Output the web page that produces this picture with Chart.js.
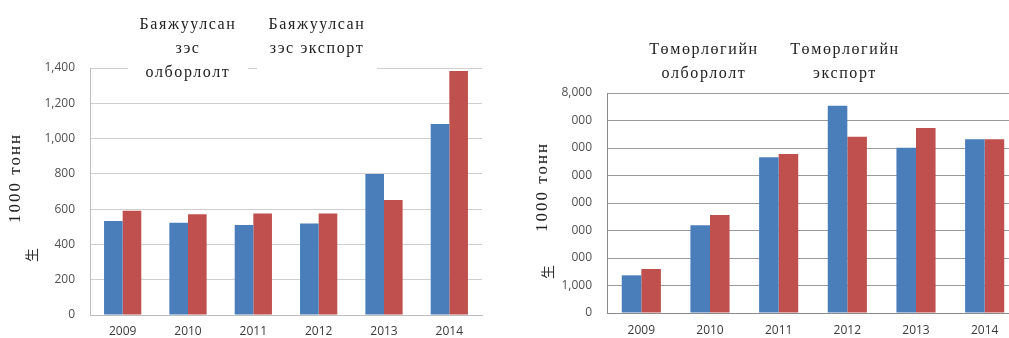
<!DOCTYPE html>
<html>
<head>
<meta charset="utf-8">
<script src="https://cdn.jsdelivr.net/npm/chart.js@4/dist/chart.umd.min.js"></script>
<style>
html,body{margin:0;padding:0;background:#fff;width:1009px;height:338px;overflow:hidden;position:relative}
#c1wrap{position:absolute;left:0;top:0;width:500px;height:338px}
#c2wrap{position:absolute;left:500px;top:0;width:540px;height:338px}
</style>
</head>
<body>
<div id="c1wrap"><canvas id="c1" width="500" height="338"></canvas></div>
<div id="c2wrap"><canvas id="c2" width="540" height="338"></canvas></div>
<script>
// ---- data ----
const years = ['2009','2010','2011','2012','2013','2014'];
const copperProduction = [533, 523, 510, 518, 799, 1083];
const copperExport = [591, 571, 576, 576, 652, 1383];
const copperTickLabels = ['0','200','400','600','800','1,000','1,200','1,400'];
const ironProduction = [1370, 3190, 5660, 7540, 6010, 6320];
const ironExport = [1600, 3560, 5780, 6410, 6730, 6320];
const ironTickLabels = ['0','1,000','000','000','000','000','000','000','8,000'];
const copperLegend1 = ['Баяжуулсан','зэс','олборлолт'];
const copperLegend2 = ['Баяжуулсан','зэс экспорт'];
const ironLegend1 = ['Төмөрлөгийн','олборлолт'];
const ironLegend2 = ['Төмөрлөгийн','экспорт'];
const yTitle = '1000 тонн';
const strayGlyph = '生';

const BLUE = '#4a7ebb', RED = '#c0504d';
const SERIF = '"Liberation Serif","DejaVu Serif",serif';

const annotPlugin = {
  id: 'annot',
  afterDraw(chart, args, opts) {
    const ctx = chart.ctx;
    ctx.save();
    (opts.boxes || []).forEach(b => {
      ctx.fillStyle = '#ffffff';
      ctx.fillRect(b.x, b.y, b.w, b.h);
    });
    ctx.fillStyle = '#222';
    ctx.font = '16px ' + SERIF;
    ctx.letterSpacing = '1.6px';
    ctx.textAlign = 'center';
    ctx.textBaseline = 'middle';
    (opts.labels || []).forEach(l => {
      l.lines.forEach((t, i) => ctx.fillText(t, l.x, l.y + i * 24));
    });
    const yt = opts.yTitle;
    if (yt) {
      ctx.save();
      ctx.translate(yt.x, yt.y);
      ctx.rotate(-Math.PI / 2);
      ctx.font = '17px ' + SERIF;
      ctx.letterSpacing = '2px';
      ctx.fillText(yt.text, 0, 0);
      ctx.restore();
    }
    const g = opts.glyph;
    if (g) {
      ctx.save();
      ctx.translate(g.x, g.y);
      ctx.rotate(-Math.PI / 2);
      ctx.letterSpacing = '0px';
      ctx.font = '14px "Noto Sans CJK SC"';
      ctx.fillStyle = '#333';
      ctx.fillText(g.text, 0, 0);
      ctx.restore();
    }
    ctx.restore();
  }
};

function makeChart(id, cfg) {
  return new Chart(document.getElementById(id), {
    type: 'bar',
    data: {
      labels: years,
      datasets: [
        {data: cfg.d1, backgroundColor: BLUE, borderWidth: 0, barPercentage: 1, categoryPercentage: 0.57},
        {data: cfg.d2, backgroundColor: RED, borderWidth: 0, barPercentage: 1, categoryPercentage: 0.57}
      ]
    },
    options: {
      responsive: false,
      animation: false,
      devicePixelRatio: 1,
      layout: {padding: cfg.padding},
      plugins: {legend: {display: false}, tooltip: {enabled: false}, annot: cfg.annot},
      scales: {
        x: {
          grid: {display: false, drawTicks: false},
          border: {display: true, color: cfg.axisColor, width: 1},
          ticks: {padding: cfg.xPad, color: '#3a3a3a', font: {family: '"Open Sans"', size: 12}},
          afterFit: s => { s.height = cfg.xHeight; }
        },
        y: {
          min: 0, max: cfg.max,
          ticks: {stepSize: cfg.step, padding: 15, color: '#505050', font: {family: '"Open Sans"', size: 12},
            callback: (v, i) => cfg.tickLabels[i]},
          grid: {color: cfg.gridColor, drawTicks: false},
          border: {display: true, color: cfg.axisColor},
          afterFit: s => { s.width = cfg.yWidth; }
        }
      }
    },
    plugins: [annotPlugin]
  });
}

makeChart('c1', {
  d1: copperProduction, d2: copperExport, max: 1400, step: 200, tickLabels: copperTickLabels,
  padding: {left: 0, right: 18, top: 68, bottom: 0}, yWidth: 90, xHeight: 23, xPad: 9,
  gridColor: '#cfcfcf', axisColor: '#bdbdbd',
  annot: {
    boxes: [{x: 128, y: 4, w: 120, h: 80}, {x: 257, y: 4, w: 120, h: 68}],
    labels: [{x: 188, y: 25, lines: copperLegend1}, {x: 317, y: 25, lines: copperLegend2}],
    yTitle: {x: 16, y: 178, text: yTitle},
    glyph: {x: 32, y: 255, text: strayGlyph}
  }
});

makeChart('c2', {
  d1: ironProduction, d2: ironExport, max: 8000, step: 1000, tickLabels: ironTickLabels,
  padding: {left: 0, right: 21, top: 93, bottom: 0}, yWidth: 107, xHeight: 25, xPad: 10,
  gridColor: '#9a9a9a', axisColor: '#8a8a8a',
  annot: {
    boxes: [],
    labels: [{x: 204, y: 50, lines: ironLegend1}, {x: 345, y: 50, lines: ironLegend2}],
    yTitle: {x: 43, y: 187, text: yTitle},
    glyph: {x: 48, y: 272, text: strayGlyph}
  }
});
</script>
</body>
</html>
